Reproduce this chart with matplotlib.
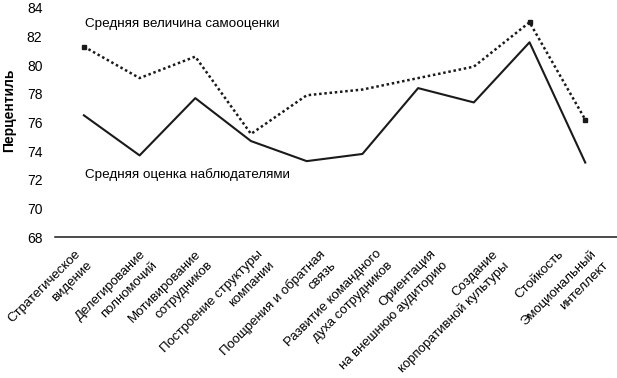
import matplotlib
matplotlib.use("Agg")
import matplotlib.pyplot as plt

categories = [
    "Стратегическое\nвидение",
    "Делегирование\nполномочий",
    "Мотивирование\nсотрудников",
    "Построение структуры\nкомпании",
    "Поощрения и обратная\nсвязь",
    "Развитие командного\nдуха сотрудников",
    "Ориентация\nна внешнюю аудиторию",
    "Создание\nкорпоративной культуры",
    "Стойкость",
    "Эмоциональный\nинтеллект",
]
self_rating = [81.3, 79.1, 80.6, 75.2, 77.9, 78.3, 79.1, 79.9, 83.0, 76.2]
observer_rating = [76.5, 73.7, 77.7, 74.7, 73.3, 73.8, 78.4, 77.4, 81.6, 73.2]
yticks = list(range(68, 85, 2))

# horizontal shift (px) of each rotated label
label_dx = [-9, 0, 0, 6, 12, 13, 12, 18, 28, 5]

plt.rcParams["font.family"] = ["Liberation Sans", "DejaVu Sans"]

fig = plt.figure(figsize=(6.17, 3.78), dpi=100)
ax = fig.add_axes([0.089, 0.373, 0.911, 0.606])

x = list(range(len(categories)))
ax.plot(x, observer_rating, color="#1a1a1a", lw=1.5)
ax.plot(x, self_rating, color="#1a1a1a", lw=1.8, ls=(0, (1, 1.1)),
        dash_capstyle="butt", marker="s", ms=2.6, markevery=[0, 8, 9])

ax.text(0.02, 82.88, "Средняя величина самооценки", fontsize=9.7, va="center")
ax.text(0.02, 72.35, "Средняя оценка наблюдателями", fontsize=9.7, va="center")

ax.set_xlim(-0.52, 9.57)
ax.set_ylim(68, 84)
ax.set_yticks(yticks)
ax.set_xticks(x)
ax.set_xticklabels([])
for i, lab in enumerate(categories):
    ax.annotate(lab, xy=(i, 68), xytext=(label_dx[i], -11),
                textcoords="offset pixels", rotation=45, ha="right",
                va="top", rotation_mode="anchor", multialignment="right",
                fontsize=9.5, linespacing=1.4, annotation_clip=False)

ax.tick_params(axis="both", length=0)
ax.tick_params(axis="y", labelsize=10, pad=9)
for s in ["left", "right", "top"]:
    ax.spines[s].set_visible(False)
ax.spines["bottom"].set_linewidth(1.1)
ax.spines["bottom"].set_color("#1a1a1a")

fig.text(9 / 617, 1 - 110 / 378, "Перцентиль", rotation=90, fontsize=10,
         fontweight="bold", ha="center", va="center")

fig.savefig("out.png", dpi=100)
